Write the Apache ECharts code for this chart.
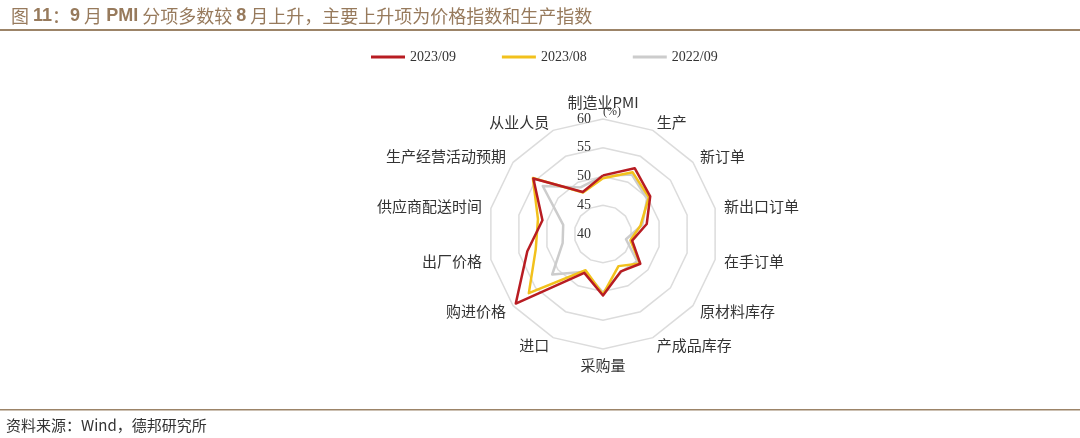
<!DOCTYPE html>
<html>
<head>
<meta charset="utf-8">
<script src="https://cdn.jsdelivr.net/npm/echarts@6/dist/echarts.min.js"></script>
<style>
html,body{margin:0;padding:0;background:#fff;}
#main{width:1080px;height:438px;}
</style>
</head>
<body>
<div id="main"></div>
<script>
var indicators = ['制造业PMI','生产','新订单','新出口订单','在手订单','原材料库存','产成品库存','采购量','进口','购进价格','出厂价格','供应商配送时间','生产经营活动预期','从业人员'];
var seriesNames = ['2023/09','2023/08','2022/09'];
var sep2023 = [50.2, 52.7, 50.5, 47.8, 45.2, 48.3, 47.2, 50.7, 47.5, 59.4, 53.5, 50.8, 55.5, 48.1];
var aug2023 = [49.7, 51.9, 50.2, 46.7, 44.9, 48.2, 46.2, 50.5, 47.0, 56.5, 52.0, 51.6, 55.6, 48.0];
var sep2022 = [50.1, 51.5, 49.8, 47.0, 44.1, 47.6, 47.3, 50.2, 47.3, 51.3, 47.2, 47.1, 53.4, 49.0];
var radialTicks = [40, 45, 50, 55, 60];
var unitLabel = '(%)';
var titleText = '图 11：9 月 PMI 分项多数较 8 月上升，主要上升项为价格指数和生产指数';
var sourceText = '资料来源：Wind，德邦研究所';

var colors = {'2023/09':'#B81C22','2023/08':'#F2C11C','2022/09':'#CCCCCC'};
var CENTER = [603, 234];
var RADIUS = 115;
var serif = '"Liberation Serif","Noto Sans CJK SC",serif';
var cjk = '"Noto Sans CJK SC","Liberation Serif",sans-serif';

// ECharts radar runs counter-clockwise; reorder so the reference's clockwise order is kept
var order = [0];
for (var i = indicators.length - 1; i >= 1; i--) order.push(i);
function reorder(arr){ return order.map(function(k){ return arr[k]; }); }

var chart = echarts.init(document.getElementById('main'), null, {renderer:'canvas'});

function richTitle(s){
  var out = '';
  s.split(/([A-Za-z0-9]+)/).forEach(function(p){
    if(!p) return;
    out += (/^[A-Za-z0-9]+$/.test(p) ? '{b|' : '{n|') + p + '}';
  });
  return out;
}

var dataMap = {'2023/09':sep2023,'2023/08':aug2023,'2022/09':sep2022};
var drawOrder = ['2022/09','2023/08','2023/09'];

var option = {
  backgroundColor:'#fff',
  animation:false,
  title:{
    text: richTitle(titleText),
    left: 6, top: 2,
    textStyle:{
      fontWeight:'normal',
      rich:{
        n:{fontFamily:cjk, fontSize:18, fontWeight:'normal', color:'#977a5c'},
        b:{fontFamily:'"Liberation Sans",Arial,sans-serif', fontSize:18, fontWeight:'bold', color:'#977a5c'}
      }
    }
  },
  legend:{
    data: seriesNames,
    left: 366, top: 45,
    icon:'rect', itemWidth:34, itemHeight:3, itemGap:46,
    textStyle:{fontFamily:serif, fontSize:14, color:'#333'}
  },
  radar:{
    center: CENTER,
    radius: RADIUS,
    startAngle: 90,
    shape:'polygon',
    splitNumber: 4,
    indicator: reorder(indicators).map(function(n){return {name:n, min:radialTicks[0], max:radialTicks[radialTicks.length-1]};}),
    axisName:{color:'#333', fontFamily:cjk, fontSize:15},
    nameGap: 9,
    axisLine:{show:false},
    axisTick:{show:false},
    axisLabel:{show:false},
    splitArea:{show:false},
    splitLine:{lineStyle:{color:'#dcdcdc', width:1.5}}
  },
  polar:{center: CENTER, radius: RADIUS},
  angleAxis:{show:false, startAngle:90, min:0, max:360},
  radiusAxis:{
    min: radialTicks[0], max: radialTicks[radialTicks.length-1], interval: 5,
    axisLine:{show:false}, axisTick:{show:false}, splitLine:{show:false},
    axisLabel:{show:true, color:'#333', fontFamily:serif, fontSize:14, margin:12, align:'right', verticalAlign:'middle'},
    z: 10
  },
  graphic:[
    {type:'text', left: 603, top: 106, style:{text: unitLabel, font:'12px "Liberation Serif", serif', fill:'#333'}},
    {type:'rect', shape:{x:0, y:29, width:1080, height:2}, style:{fill:'#9c8468'}},
    {type:'rect', shape:{x:0, y:409, width:1080, height:1.5}, style:{fill:'#9c8468'}},
    {type:'text', left: 6, top: 418, style:{text: sourceText, font:'15px "Noto Sans CJK SC", sans-serif', fill:'#333'}}
  ],
  series: drawOrder.map(function(name){
    return {
      name: name,
      type:'radar',
      symbol:'none',
      lineStyle:{color:colors[name], width:2.5},
      itemStyle:{color:colors[name]},
      data:[{value: reorder(dataMap[name]), name: name}]
    };
  })
};
chart.setOption(option);
</script>
</body>
</html>
